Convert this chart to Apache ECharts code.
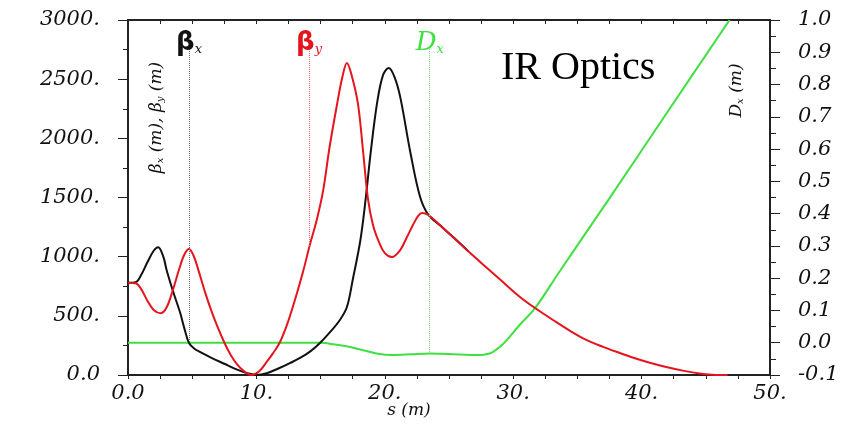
<!DOCTYPE html>
<html>
<head>
<meta charset="utf-8">
<title>IR Optics</title>
<script src="https://cdn.jsdelivr.net/npm/echarts@6/dist/echarts.min.js"></script>
<style>
  html, body { margin: 0; padding: 0; background: #fff; }
  #chart { width: 861px; height: 424px; }
</style>
</head>
<body>
<div id="chart"></div>
<script>
// beta x (black)
var sBx = [0, 0.6, 1.0, 1.5, 2.0, 2.35, 2.75, 3.0, 3.5, 4.05, 4.4, 4.75, 5.2, 5.6, 6.5, 7.5, 8.5, 9.3, 10, 10.8, 11.8, 12.6, 13.4, 14.2, 14.95, 15.8, 16.5, 17.05, 17.5, 18.1, 18.5, 18.9, 19.4, 19.85, 20.3, 20.75, 21.2, 22.0, 22.75, 23.4, 24.3, 25.3, 26.5]
var betaX = [780, 785, 840, 950, 1050, 1080, 1000, 890, 710, 530, 390, 270, 220, 195, 145, 95, 45, 15, 0, 15, 59, 100, 144, 200, 270, 370, 465, 575, 803, 1141, 1479, 1880, 2299, 2530, 2594, 2520, 2350, 1876, 1504, 1352, 1265, 1168, 1047]

// beta y (red)
var sBy = [0, 0.6, 1.0, 1.5, 2.0, 2.55, 3.0, 3.5, 4.0, 4.4, 4.75, 5.1, 5.5, 6.0, 6.5, 7.0, 7.5, 8.0, 8.5, 9.0, 9.6, 10.2, 10.8, 11.3, 11.8, 12.4, 13.0, 13.6, 14.2, 14.7, 15.2, 15.7, 16.3, 16.7, 17.05, 17.4, 17.9, 18.3, 18.7, 19.1, 19.6, 20.0, 20.55, 21.2, 21.7, 22.2, 22.6, 22.9, 23.4, 24.3, 25.3, 26.5, 27.96, 29.2, 30.5, 31.7, 33.1, 34.4, 35.7, 37.0, 38.3, 39.3, 40.5, 42.0, 43.3, 44.5, 45.5, 46.7]
var betaY = [780, 775, 730, 630, 550, 522, 570, 720, 900, 1020, 1065, 1010, 880, 700, 540, 400, 275, 170, 90, 35, 0, 30, 110, 185, 270, 430, 634, 860, 1115, 1310, 1560, 1927, 2299, 2520, 2636, 2540, 2299, 1900, 1479, 1260, 1110, 1030, 997, 1056, 1160, 1270, 1345, 1369, 1352, 1265, 1166, 1045, 904, 785, 662, 566, 465, 375, 296, 238, 186, 148, 108, 65, 35, 13, 3, 0]

// dispersion Dx (green, right axis)
var sDx = [0, 15.1, 16.0, 17.3, 18.5, 19.6, 20.5, 22.0, 23.5, 25.0, 27.4, 28.0, 28.4, 29.0, 29.5, 30.5, 31.7, 33.6, 37.4, 42.0, 46.85]
var dispX = [0.0, 0.0, -0.005, -0.013, -0.025, -0.035, -0.038, -0.036, -0.033, -0.035, -0.038, -0.035, -0.029, -0.012, 0.008, 0.055, 0.107, 0.22, 0.442, 0.714, 1.0]

// dotted marker lines: s position, top and bottom value
var markS = [4.75, 14.1, 23.5]
var markTop = [2772, 2772, 0.916]
var markBottom = [270, 1080, -0.033]

function pairs (xs, ys) {
  return xs.map(function (x, i) { return [x, ys[i]] })
}

var serif = 'DejaVu Serif'
var axisColor = '#222'

var chart = echarts.init(document.getElementById('chart'))

chart.setOption({
  animation: false,
  backgroundColor: '#fff',
  title: {
    text: 'IR Optics',
    left: 496,
    top: 43,
    textStyle: { fontFamily: 'Liberation Serif', fontSize: 40, fontWeight: 'normal', color: '#000' }
  },
  grid: { left: 128, right: 91, top: 20, bottom: 49, containLabel: false, outerBoundsMode: 'none' },
  xAxis: [
    {
      type: 'value',
      position: 'bottom',
      min: 0,
      max: 50,
      interval: 10,
      name: 's (m)',
      nameLocation: 'middle',
      nameGap: 27,
      nameMoveOverlap: false,
      nameTextStyle: { fontFamily: serif, fontStyle: 'italic', fontSize: 17, color: '#111', padding: [0, 80, 0, 0] },
      axisLine: { onZero: false, lineStyle: { color: axisColor, width: 2 } },
      axisTick: { inside: false, length: 4, lineStyle: { color: axisColor } },
      minorTick: { show: true, splitNumber: 4, length: 4, lineStyle: { color: axisColor } },
      splitLine: { show: false },
      axisLabel: {
        margin: 8,
        fontFamily: serif,
        fontStyle: 'italic',
        fontSize: 21,
        color: '#111',
        formatter: function (v) { return v === 0 ? '0.0' : v + '.' }
      }
    },
    {
      type: 'value',
      position: 'top',
      min: 0,
      max: 50,
      interval: 10,
      axisLine: { onZero: false, lineStyle: { color: axisColor, width: 2 } },
      axisTick: { inside: true, length: 4, lineStyle: { color: axisColor } },
      minorTick: { show: true, splitNumber: 4, length: 4, lineStyle: { color: axisColor } },
      splitLine: { show: false },
      axisLabel: { show: false }
    }
  ],
  yAxis: [
    {
      type: 'value',
      position: 'left',
      min: 0,
      max: 3000,
      interval: 500,
      name: '{t|β}{s|x}{t| (m), β}{s|y}{t| (m)}',
      nameLocation: 'middle',
      nameRotate: 90,
      nameGap: -37,
      nameMoveOverlap: false,
      nameTextStyle: {
        padding: [0, 0, 0, 160],
        rich: {
          t: { fontFamily: serif, fontStyle: 'italic', fontSize: 17, color: '#111' },
          s: { fontFamily: serif, fontStyle: 'italic', fontSize: 10, color: '#111', verticalAlign: 'bottom' }
        }
      },
      axisLine: { show: true, onZero: false, lineStyle: { color: axisColor, width: 2 } },
      axisTick: { length: 10, lineStyle: { color: axisColor } },
      minorTick: { show: true, splitNumber: 2, length: 5, lineStyle: { color: axisColor } },
      splitLine: { show: false },
      axisLabel: {
        margin: 28,
        fontFamily: serif,
        fontStyle: 'italic',
        fontSize: 21,
        color: '#111',
        formatter: function (v) { return v === 0 ? '0.0' : v + '.' }
      }
    },
    {
      type: 'value',
      position: 'right',
      min: -0.1,
      max: 1.0,
      interval: 0.1,
      name: '{t|D}{s|x}{t| (m)}',
      nameLocation: 'middle',
      nameRotate: 90,
      nameGap: -42,
      nameMoveOverlap: false,
      nameTextStyle: {
        padding: [0, 0, 0, 214],
        rich: {
          t: { fontFamily: serif, fontStyle: 'italic', fontSize: 17, color: '#111' },
          s: { fontFamily: serif, fontStyle: 'italic', fontSize: 10, color: '#111', verticalAlign: 'bottom' }
        }
      },
      axisLine: { show: true, onZero: false, lineStyle: { color: axisColor, width: 2 } },
      axisTick: { length: 10, lineStyle: { color: axisColor } },
      minorTick: { show: true, splitNumber: 2, length: 6, lineStyle: { color: axisColor } },
      splitLine: { show: false },
      axisLabel: {
        margin: 28,
        fontFamily: serif,
        fontStyle: 'italic',
        fontSize: 21,
        color: '#111',
        formatter: function (v) { return Math.abs(v) < 1e-9 ? '0.0' : v.toFixed(1) }
      }
    }
  ],
  series: [
    {
      name: 'Dx',
      type: 'line',
      yAxisIndex: 1,
      data: pairs(sDx, dispX),
      smooth: 0.35,
      showSymbol: false,
      lineStyle: { color: '#3fe03f', width: 2 },
      markLine: {
        silent: true,
        symbol: 'none',
        lineStyle: { color: '#7ee07e', type: 'dotted', width: 1 },
        label: {
          show: true,
          position: 'start',
          distance: -9,
          formatter: '{b|D}{s|x}',
          rich: {
            b: { fontFamily: serif, fontStyle: 'italic', fontSize: 26, color: '#3fe03f' },
            s: { fontFamily: serif, fontStyle: 'italic', fontSize: 13, color: '#3fe03f', verticalAlign: 'bottom' }
          }
        },
        data: [[{ coord: [markS[2], markTop[2]] }, { coord: [markS[2], markBottom[2]] }]]
      }
    },
    {
      name: 'βx',
      type: 'line',
      data: pairs(sBx, betaX),
      smooth: 0.35,
      showSymbol: false,
      lineStyle: { color: '#111', width: 2 },
      markLine: {
        silent: true,
        symbol: 'none',
        lineStyle: { color: '#666', type: 'dotted', width: 1 },
        label: {
          show: true,
          position: 'start',
          distance: -9,
          formatter: '{b|β}{s|x}',
          rich: {
            b: { fontFamily: 'DejaVu Sans', fontWeight: 'bold', fontSize: 26, color: '#111' },
            s: { fontFamily: serif, fontStyle: 'italic', fontSize: 13, color: '#111', verticalAlign: 'bottom' }
          }
        },
        data: [[{ coord: [markS[0], markTop[0]] }, { coord: [markS[0], markBottom[0]] }]]
      }
    },
    {
      name: 'βy',
      type: 'line',
      data: pairs(sBy, betaY),
      smooth: 0.35,
      showSymbol: false,
      lineStyle: { color: '#e5141d', width: 2 },
      markLine: {
        silent: true,
        symbol: 'none',
        lineStyle: { color: '#ec6a6a', type: 'dotted', width: 1 },
        label: {
          show: true,
          position: 'start',
          distance: -9,
          formatter: '{b|β}{s|y}',
          rich: {
            b: { fontFamily: 'DejaVu Sans', fontWeight: 'bold', fontSize: 26, color: '#e5141d' },
            s: { fontFamily: serif, fontStyle: 'italic', fontSize: 13, color: '#e5141d', verticalAlign: 'bottom' }
          }
        },
        data: [[{ coord: [markS[1], markTop[1]] }, { coord: [markS[1], markBottom[1]] }]]
      }
    }
  ]
})
</script>
</body>
</html>
